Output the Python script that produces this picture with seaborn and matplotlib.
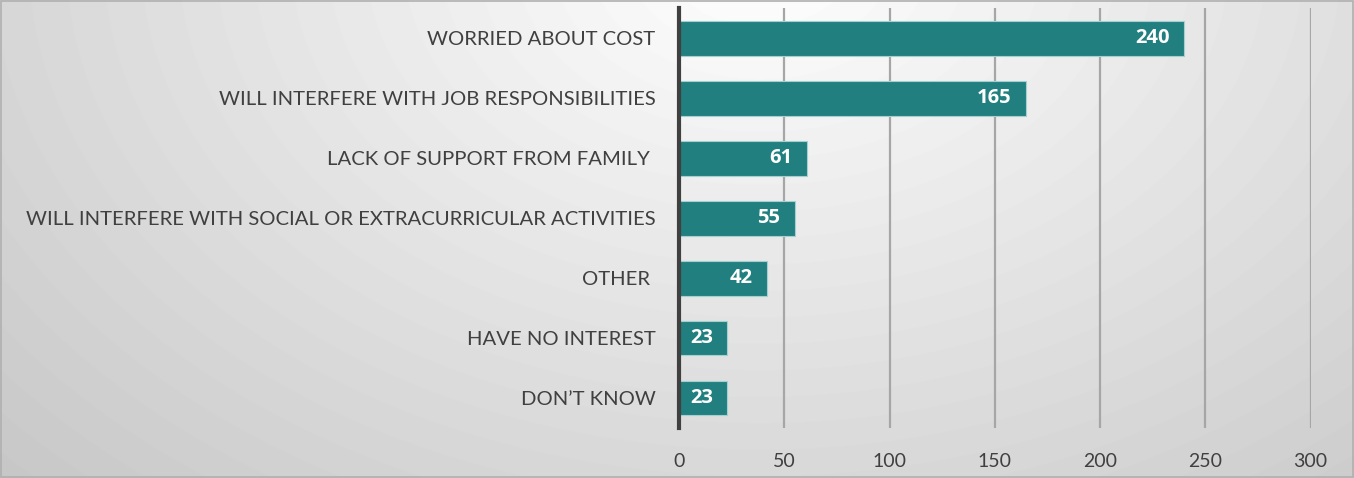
import seaborn as sns
import numpy as np
import pandas as pd
import matplotlib.pyplot as plt

reasons = ["WORRIED ABOUT COST", "WILL INTERFERE WITH JOB RESPONSIBILITIES",
           "LACK OF SUPPORT FROM FAMILY ", "WILL INTERFERE WITH SOCIAL OR EXTRACURRICULAR ACTIVITIES",
           "OTHER ", "HAVE NO INTEREST", "DON\u2019T KNOW"]
counts = [240, 165, 61, 55, 42, 23, 23]
xticks = [0, 50, 100, 150, 200, 250, 300]

df = pd.DataFrame({"reason": reasons, "count": counts})

sns.set_style("white")
plt.rcParams['font.family'] = ['Lato', 'DejaVu Sans']

fig = plt.figure(figsize=(13.54, 4.78), dpi=100)

# radial gradient background
bg = fig.add_axes([0, 0, 1, 1], zorder=-10)
yy, xx = np.mgrid[0:478, 0:1354]
r = np.sqrt(((xx - 760) / 1354) ** 2 + ((yy + 40) / 478 * 0.5) ** 2)
r = np.clip(r / r.max(), 0, 1)
shade = 1.0 - 0.22 * r
bg.imshow(shade, cmap="gray", vmin=0, vmax=1, aspect="auto", extent=[0, 1, 0, 1])
bg.axis("off")
bg.add_patch(plt.Rectangle((0.001, 0.002), 0.998, 0.996, fill=False, ec="#b0b0b0", lw=1.2,
                           transform=bg.transAxes))

ax = fig.add_axes([0.5015, 0.1046, 0.4665, 0.878])
ax.patch.set_alpha(0)
sns.barplot(data=df, x="count", y="reason", color="#217f80", saturation=1, width=0.58, ax=ax,
            edgecolor="#a6cfcf", linewidth=0.8, zorder=3)

ax.set_xlim(0, 300)
ax.set_ylim(6.5, -0.5)
ax.set_xticks(xticks)
ax.set_xticklabels([str(t) for t in xticks], fontsize=14, color="#404040")
ax.tick_params(axis="y", labelsize=14.6, labelcolor="#404040", length=0, pad=17)
ax.tick_params(axis="x", length=0, pad=18)
for t in xticks[1:]:
    ax.axvline(t, color="#a6a6a6", lw=1.6, zorder=1)
ax.set_xlabel("")
ax.set_ylabel("")
for s in ["top", "right", "bottom"]:
    ax.spines[s].set_visible(False)
ax.spines["left"].set_color("#404040")
ax.spines["left"].set_linewidth(3)
ax.spines["left"].set_zorder(5)

for i, v in enumerate(counts):
    ax.text(v - 7, i, str(v), ha="right", va="center", color="white",
            fontsize=14.5, fontweight="bold", family=["Open Sans", "DejaVu Sans"], zorder=6)

fig.savefig("out.png", dpi=100)
